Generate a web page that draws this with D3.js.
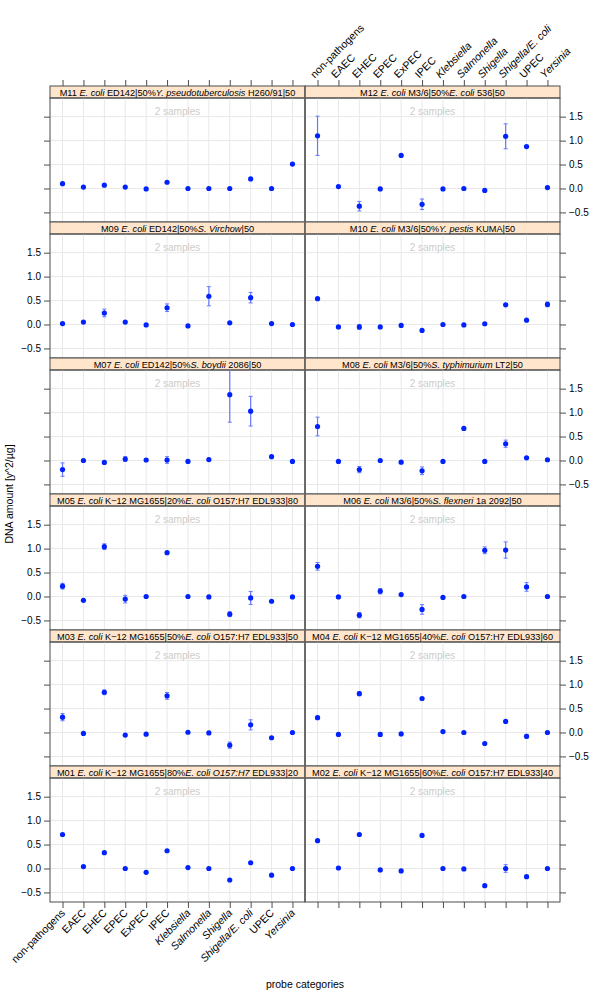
<!DOCTYPE html>
<html><head><meta charset="utf-8">
<script src="https://cdn.jsdelivr.net/npm/d3@7"></script>
<style>body{margin:0;background:#fff}svg{font-family:"Liberation Sans",Arial,sans-serif}</style>
</head><body>
<svg id="c" width="600" height="1000"></svg>
<script>
const categories = ["non-pathogens","EAEC","EHEC","EPEC","ExPEC","IPEC","Klebsiella","Salmonella","Shigella","Shigella/E. coli","UPEC","Yersinia"];
const italicCats = ["Klebsiella","Salmonella","Shigella","Shigella/E. coli","Yersinia"];
const yTicks = [-0.5, 0.0, 0.5, 1.0, 1.5];
const yTickLabels = ["\u22120.5","0.0","0.5","1.0","1.5"];

// panel layout order: rows top->bottom, left/right
const panelIds = [["M11","M12"],["M09","M10"],["M07","M08"],["M05","M06"],["M03","M04"],["M01","M02"]];
const titles = {
  M11:"M11 *E. coli* ED142|50%*Y. pseudotuberculosis* H260/91|50",
  M12:"M12 *E. coli* M3/6|50%*E. coli* 536|50",
  M09:"M09 *E. coli* ED142|50%*S. Virchow*|50",
  M10:"M10 *E. coli* M3/6|50%*Y. pestis* KUMA|50",
  M07:"M07 *E. coli* ED142|50%*S. boydii* 2086|50",
  M08:"M08 *E. coli* M3/6|50%*S. typhimurium* LT2|50",
  M05:"M05 *E. coli* K\u221212 MG1655|20%*E. coli* O157:H7 EDL933|80",
  M06:"M06 *E. coli* M3/6|50%*S. flexneri* 1a 2092|50",
  M03:"M03 *E. coli* K\u221212 MG1655|50%*E. coli* O157:H7 EDL933|50",
  M04:"M04 *E. coli* K\u221212 MG1655|40%*E. coli* O157:H7 EDL933|60",
  M01:"M01 *E. coli* K\u221212 MG1655|80%*E. coli O157:H7* EDL933|20",
  M02:"M02 *E. coli* K\u221212 MG1655|60%*E. coli* O157:H7 EDL933|40"
};
const sampleNote = "2 samples";

// means per panel (category order)
const m11 = [0.10,0.03,0.07,0.03,-0.01,0.13,0.00,0.00,0.00,0.20,0.00,0.51];
const m12 = [1.10,0.04,-0.37,-0.01,0.69,-0.33,-0.01,0.00,-0.04,1.09,0.875,0.02];
const m09 = [0.02,0.05,0.24,0.05,-0.01,0.35,-0.03,0.59,0.035,0.56,0.02,0.00];
const m10 = [0.54,-0.05,-0.05,-0.05,-0.02,-0.125,0.00,-0.01,0.015,0.41,0.09,0.42];
const m07 = [-0.19,0.00,-0.04,0.03,0.01,0.01,-0.02,0.02,1.375,1.03,0.08,-0.02];
const m08 = [0.71,-0.02,-0.19,0.00,-0.035,-0.215,-0.02,0.67,-0.02,0.35,0.055,0.015];
const m05 = [0.215,-0.08,1.04,-0.055,0.00,0.915,0.00,-0.01,-0.37,-0.03,-0.10,-0.01];
const m06 = [0.63,-0.01,-0.39,0.11,0.04,-0.27,-0.02,0.00,0.965,0.97,0.20,0.00];
const m03 = [0.32,-0.02,0.84,-0.055,-0.035,0.765,0.005,-0.01,-0.265,0.16,-0.11,0.00];
const m04 = [0.31,-0.04,0.81,-0.04,-0.03,0.71,0.02,0.00,-0.23,0.23,-0.08,0.00];
const m01 = [0.71,0.04,0.33,0.00,-0.08,0.37,0.02,0.00,-0.24,0.12,-0.14,0.00];
const m02 = [0.58,0.01,0.71,-0.03,-0.05,0.69,0.00,-0.01,-0.36,0.00,-0.17,0.00];
// error half-widths
const e11 = [0,0,0,0,0,0,0,0,0,0,0,0];
const e12 = [0.41,0,0.10,0,0,0.11,0,0,0,0.26,0.02,0];
const e09 = [0,0,0.08,0,0,0.08,0,0.20,0,0.11,0,0];
const e10 = [0,0,0.05,0,0,0,0,0,0,0,0,0.05];
const e07 = [0.14,0,0,0.05,0,0.07,0,0,0.575,0.31,0,0];
const e08 = [0.195,0,0.065,0,0,0.08,0,0,0,0.075,0,0];
const e05 = [0.06,0,0.06,0.08,0,0,0,0,0.05,0.135,0,0];
const e06 = [0.08,0,0.055,0.055,0,0.10,0,0,0.07,0.17,0.09,0];
const e03 = [0.075,0,0.05,0,0,0.07,0,0,0.065,0.105,0,0];
const e04 = [0.03,0,0.04,0.04,0,0,0,0,0,0,0.04,0];
const e01 = [0,0,0,0,0,0,0,0,0,0,0,0];
const e02 = [0,0,0,0,0,0,0,0,0,0.08,0,0];

const means = {M01:m01,M02:m02,M03:m03,M04:m04,M05:m05,M06:m06,M07:m07,M08:m08,M09:m09,M10:m10,M11:m11,M12:m12};
const errs  = {M01:e01,M02:e02,M03:e03,M04:e04,M05:e05,M06:e06,M07:e07,M08:e08,M09:e09,M10:e10,M11:e11,M12:e12};

const svg = d3.select("#c");
const L = 50, PW = 255, TOP = 86, STRIP = 12, BODY = 124, ROWH = STRIP + BODY;
const x = d3.scalePoint().domain(categories).range([0, PW]).padding(0.6);
const y = d3.scaleLinear().domain([-0.7, 1.89]).range([BODY, 0]);
const dotCol = "#0022ff", errCol = "#6677ff", axisCol = "#4d4d4d";
const FF = "Liberation Sans, Arial, sans-serif";

function richText(sel, str) {
  str.split("*").forEach((part, i) => {
    if (!part) return;
    sel.append("tspan").attr("font-style", i % 2 ? "italic" : "normal").text(part);
  });
}

const defs = svg.append("defs");
panelIds.forEach((row, r) => {
  row.forEach((id, c) => {
    const px = L + c * PW, py = TOP + r * ROWH;
    const g = svg.append("g").attr("transform", `translate(${px},${py})`);
    // strip
    g.append("rect").attr("x",0).attr("y",0).attr("width",PW).attr("height",STRIP)
      .attr("fill","#ffe5cc").attr("stroke",axisCol).attr("stroke-width",1);
    const st = g.append("text").attr("x",PW/2).attr("y",STRIP-2.4).attr("text-anchor","middle")
      .attr("font-size","9.2px").attr("fill","#000");
    richText(st, titles[id]);
    const b = g.append("g").attr("transform",`translate(0,${STRIP})`);
    const cid = "clip" + id;
    defs.append("clipPath").attr("id",cid).append("rect").attr("x",px).attr("y",py+STRIP).attr("width",PW).attr("height",BODY);
    // grid
    b.selectAll(".gv").data(categories).join("line")
      .attr("x1",d=>x(d)).attr("x2",d=>x(d)).attr("y1",0).attr("y2",BODY)
      .attr("stroke","#e8e8e8").attr("stroke-width",1);
    b.selectAll(".gh").data(yTicks).join("line")
      .attr("x1",0).attr("x2",PW).attr("y1",d=>y(d)).attr("y2",d=>y(d))
      .attr("stroke","#e8e8e8").attr("stroke-width",1);
    b.append("text").attr("x",PW/2).attr("y",17).attr("text-anchor","middle")
      .attr("font-size","10px").attr("fill","#cccccc").text(sampleNote);
    // data
    const data = categories.map((k,i)=>({k, m: means[id][i], e: errs[id][i]}));
    const eg = svg.append("g").attr("clip-path",`url(#${cid})`).append("g").attr("transform",`translate(${px},${py+STRIP})`);
    const withErr = data.filter(d=>d.e>0);
    eg.selectAll(".ev").data(withErr).join("line")
      .attr("x1",d=>x(d.k)).attr("x2",d=>x(d.k)).attr("y1",d=>y(d.m-d.e)).attr("y2",d=>y(d.m+d.e))
      .attr("stroke",errCol).attr("stroke-width",1.2);
    ["lo","hi"].forEach(side=>{
      eg.selectAll(".c"+side).data(withErr).join("line")
        .attr("x1",d=>x(d.k)-2).attr("x2",d=>x(d.k)+2)
        .attr("y1",d=>y(side==="lo"?d.m-d.e:d.m+d.e)).attr("y2",d=>y(side==="lo"?d.m-d.e:d.m+d.e))
        .attr("stroke",errCol).attr("stroke-width",1);
    });
    eg.selectAll("circle").data(data).join("circle")
      .attr("cx",d=>x(d.k)).attr("cy",d=>y(d.m)).attr("r",2.6).attr("fill",dotCol);
    // border
    b.append("rect").attr("x",0).attr("y",0).attr("width",PW).attr("height",BODY)
      .attr("fill","none").attr("stroke",axisCol).attr("stroke-width",1);
    // y axis ticks both sides
    const leftLabels = (r % 2 === 1);
    if (c === 0) {
      const ax = d3.axisLeft(y).tickValues(yTicks).tickSize(6).tickFormat((d,i)=> leftLabels ? yTickLabels[i] : "");
      const ag = b.append("g").call(ax);
      ag.select(".domain").remove();
      ag.selectAll("line").attr("stroke",axisCol);
      ag.selectAll("text").attr("font-size","10px").attr("fill","#000").attr("font-family",FF);
    } else {
      const ax = d3.axisRight(y).tickValues(yTicks).tickSize(6).tickFormat((d,i)=> !leftLabels ? yTickLabels[i] : "");
      const ag = b.append("g").attr("transform",`translate(${PW},0)`).call(ax);
      ag.select(".domain").remove();
      ag.selectAll("line").attr("stroke",axisCol);
      ag.selectAll("text").attr("font-size","10px").attr("fill","#000").attr("font-family",FF);
    }
    // x axis top
    if (r === 0) {
      const ax = d3.axisTop(x).tickSize(6).tickFormat(c===1 ? d=>d : ()=> "");
      const ag = g.append("g").call(ax);
      ag.select(".domain").remove();
      ag.selectAll("line").attr("stroke",axisCol);
      ag.selectAll("text").attr("font-size","10.6px").attr("fill","#000")
        .attr("font-family",FF)
        .attr("font-style",d=>italicCats.includes(d)?"italic":"normal")
        .attr("text-anchor","start").attr("y",null).attr("x",0).attr("dy","0.35em")
        .attr("transform","translate(-6,-10) rotate(-45)");
    }
    if (r === panelIds.length-1) {
      const ax = d3.axisBottom(x).tickSize(6).tickFormat(c===0 ? d=>d : ()=> "");
      const ag = b.append("g").attr("transform",`translate(0,${BODY})`).call(ax);
      ag.select(".domain").remove();
      ag.selectAll("line").attr("stroke",axisCol);
      ag.selectAll("text").attr("font-size","10.6px").attr("fill","#000")
        .attr("font-family",FF)
        .attr("font-style",d=>italicCats.includes(d)?"italic":"normal")
        .attr("text-anchor","end").attr("y",null).attr("x",0).attr("dy","0.35em")
        .attr("transform","translate(0,9) rotate(-45)");
    }
  });
});
// middle divider emphasis
svg.append("line").attr("x1",L+PW).attr("x2",L+PW).attr("y1",TOP).attr("y2",TOP+6*ROWH)
  .attr("stroke","#666").attr("stroke-width",1.5);

svg.append("text").attr("transform",`translate(13,${TOP+3*ROWH}) rotate(-90)`)
  .attr("text-anchor","middle").attr("font-size","10.5px").attr("fill","#000").text("DNA amount [y^2/\u00b5g]");
svg.append("text").attr("x",L+PW).attr("y",988).attr("text-anchor","middle")
  .attr("font-size","10.5px").attr("fill","#000").text("probe categories");
</script>
</body></html>
